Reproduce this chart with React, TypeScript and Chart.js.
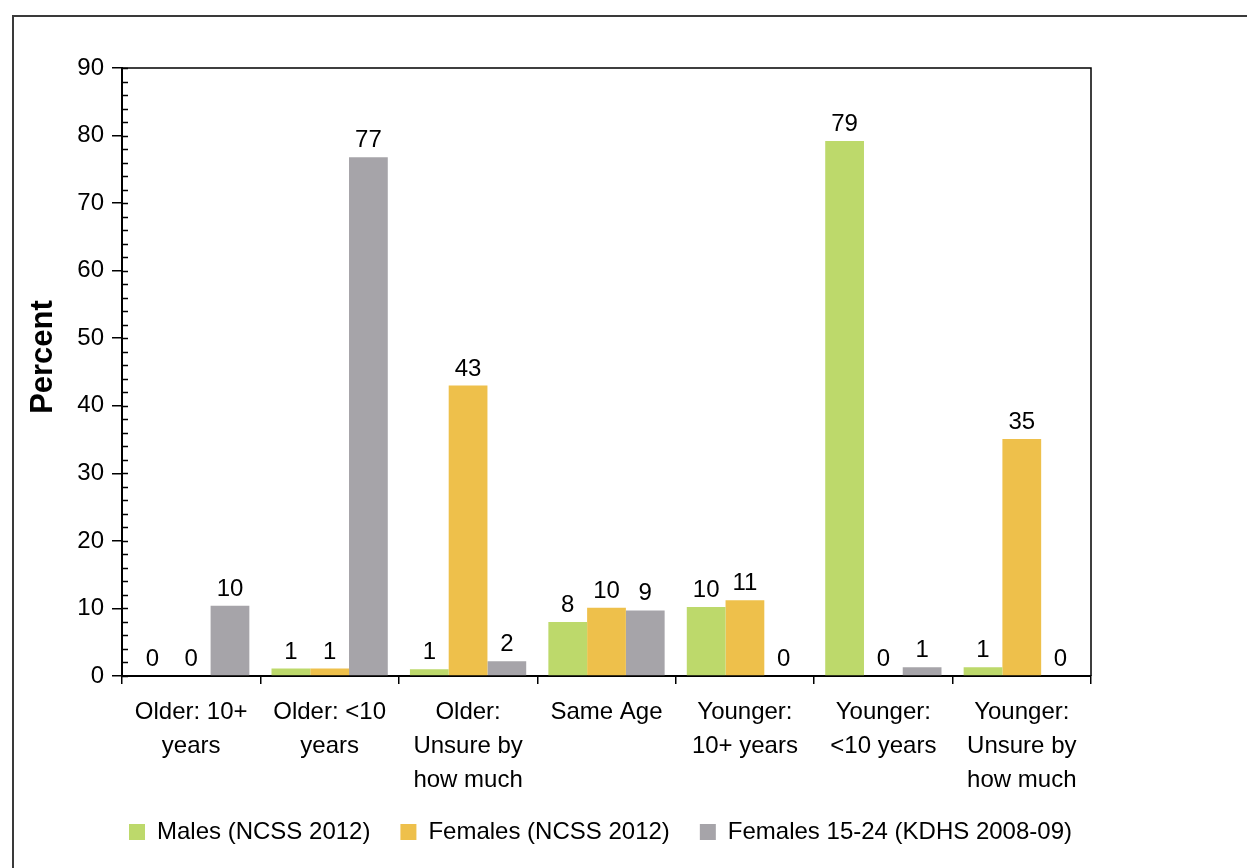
import React, { useEffect, useRef } from "react";
import { Chart, registerables } from "chart.js";

Chart.register(...registerables);

const categories: string[][] = [
  ["Older: 10+", "years"],
  ["Older: <10", "years"],
  ["Older:", "Unsure by", "how much"],
  ["Same Age"],
  ["Younger:", "10+ years"],
  ["Younger:", "<10 years"],
  ["Younger:", "Unsure by", "how much"],
];

const malesNCSS = [0, 1.1, 1.0, 8.0, 10.2, 79.2, 1.3];
const femalesNCSS = [0, 1.1, 43.0, 10.1, 11.2, 0, 35.1];
const femalesKDHS = [10.4, 76.8, 2.2, 9.7, 0, 1.3, 0];

const malesLabels = ["0", "1", "1", "8", "10", "79", "1"];
const femalesLabels = ["0", "1", "43", "10", "11", "0", "35"];
const kdhsLabels = ["10", "77", "2", "9", "0", "1", "0"];

const yTicks = [0, 10, 20, 30, 40, 50, 60, 70, 80, 90];

const FONT = "'Liberation Sans', Arial, Helvetica, sans-serif";

export default function App() {
  const ref = useRef<HTMLCanvasElement | null>(null);

  useEffect(() => {
    if (!ref.current) return;
    const labelSets = [malesLabels, femalesLabels, kdhsLabels];

    const valueLabels = {
      id: "valueLabels",
      afterDatasetsDraw(chart: any) {
        const ctx = chart.ctx;
        ctx.save();
        ctx.font = `24px ${FONT}`;
        ctx.fillStyle = "#000";
        ctx.textAlign = "center";
        ctx.textBaseline = "alphabetic";
        chart.data.datasets.forEach((ds: any, i: number) => {
          const meta = chart.getDatasetMeta(i);
          meta.data.forEach((bar: any, j: number) => {
            ctx.fillText(labelSets[i][j], bar.x, bar.y - 10);
          });
        });
        ctx.restore();
      },
    };

    const legendShift = {
      id: "legendShift",
      afterLayout(chart: any) {
        if (chart.legend) {
          chart.legend.left += 48;
          chart.legend.right += 48;
        }
      },
    };

    const frame = {
      id: "frame",
      afterDraw(chart: any) {
        const ctx = chart.ctx;
        const { left, right, top, bottom } = chart.chartArea;
        const y = chart.scales.y;
        ctx.save();
        ctx.strokeStyle = "#000";
        ctx.lineWidth = 1.5;
        ctx.beginPath();
        ctx.moveTo(left, top);
        ctx.lineTo(right, top);
        ctx.lineTo(right, bottom);
        ctx.stroke();
        ctx.beginPath();
        for (let v = 0; v <= 90; v += 2) {
          const py = Math.round(y.getPixelForValue(v)) + 0.5;
          ctx.moveTo(left, py);
          ctx.lineTo(left + 6, py);
        }
        ctx.stroke();
        // y axis title
        ctx.fillStyle = "#000";
        ctx.font = `bold 31px ${FONT}`;
        ctx.textAlign = "center";
        ctx.textBaseline = "middle";
        ctx.translate(29, 341);
        ctx.rotate(-Math.PI / 2);
        ctx.fillText("Percent", 0, 0);
        ctx.restore();
      },
    };

    const chart = new Chart(ref.current, {
      type: "bar",
      data: {
        labels: categories,
        datasets: [
          { label: "Males (NCSS 2012)", data: malesNCSS, backgroundColor: "#bdd96b" },
          { label: "Females (NCSS 2012)", data: femalesNCSS, backgroundColor: "#eec04b" },
          { label: "Females 15-24 (KDHS 2008-09)", data: femalesKDHS, backgroundColor: "#a6a4a9" },
        ],
      },
      options: {
        animation: false,
        responsive: false,
        maintainAspectRatio: false,
        layout: { padding: { left: 0, right: 156, top: 52, bottom: 14 } },
        datasets: { bar: { categoryPercentage: 0.84, barPercentage: 1.0 } },
        plugins: {
          tooltip: { enabled: false },
          legend: {
            position: "bottom",
            labels: {
              font: { family: FONT, size: 24 },
              color: "#000",
              boxWidth: 16,
              boxHeight: 16,
              padding: 30,
            },
          },
        },
        scales: {
          x: {
            grid: {
              offset: true,
              drawOnChartArea: false,
              drawTicks: true,
              tickLength: 8,
              color: "#000",
              lineWidth: 1.5,
            },
            border: { display: true, color: "#000", width: 2 },
            ticks: {
              font: { family: FONT, size: 24, lineHeight: 1.417 },
              color: "#000",
              maxRotation: 0,
              autoSkip: false,
              padding: 11,
            },
            afterFit(scale: any) {
              scale.height = 114;
            },
          },
          y: {
            min: 0,
            max: 90,
            afterBuildTicks(scale: any) {
              scale.ticks = yTicks.map((v) => ({ value: v }));
            },
            grid: {
              drawOnChartArea: false,
              drawTicks: true,
              tickLength: 10,
              color: "#000",
              lineWidth: 1.5,
            },
            border: { display: true, color: "#000", width: 2 },
            ticks: {
              font: { family: FONT, size: 24 },
              color: "#000",
              padding: 8,
            },
            afterFit(scale: any) {
              scale.width = 108;
            },
          },
        },
      },
      plugins: [valueLabels, legendShift, frame],
    } as any);
    return () => chart.destroy();
  }, []);

  return (
    <div style={{ position: "absolute", left: 0, top: 0, width: 1247, height: 868, overflow: "hidden", background: "#fff" }}>
      <div
        style={{
          position: "absolute",
          left: 12,
          top: 15,
          width: 1300,
          height: 900,
          borderLeft: "2px solid #3a3a3a",
          borderTop: "2px solid #3a3a3a",
        }}
      />
      <canvas
        ref={ref}
        width={1233}
        height={852}
        style={{ position: "absolute", left: 14, top: 16, width: 1233, height: 852 }}
      />
    </div>
  );
}
